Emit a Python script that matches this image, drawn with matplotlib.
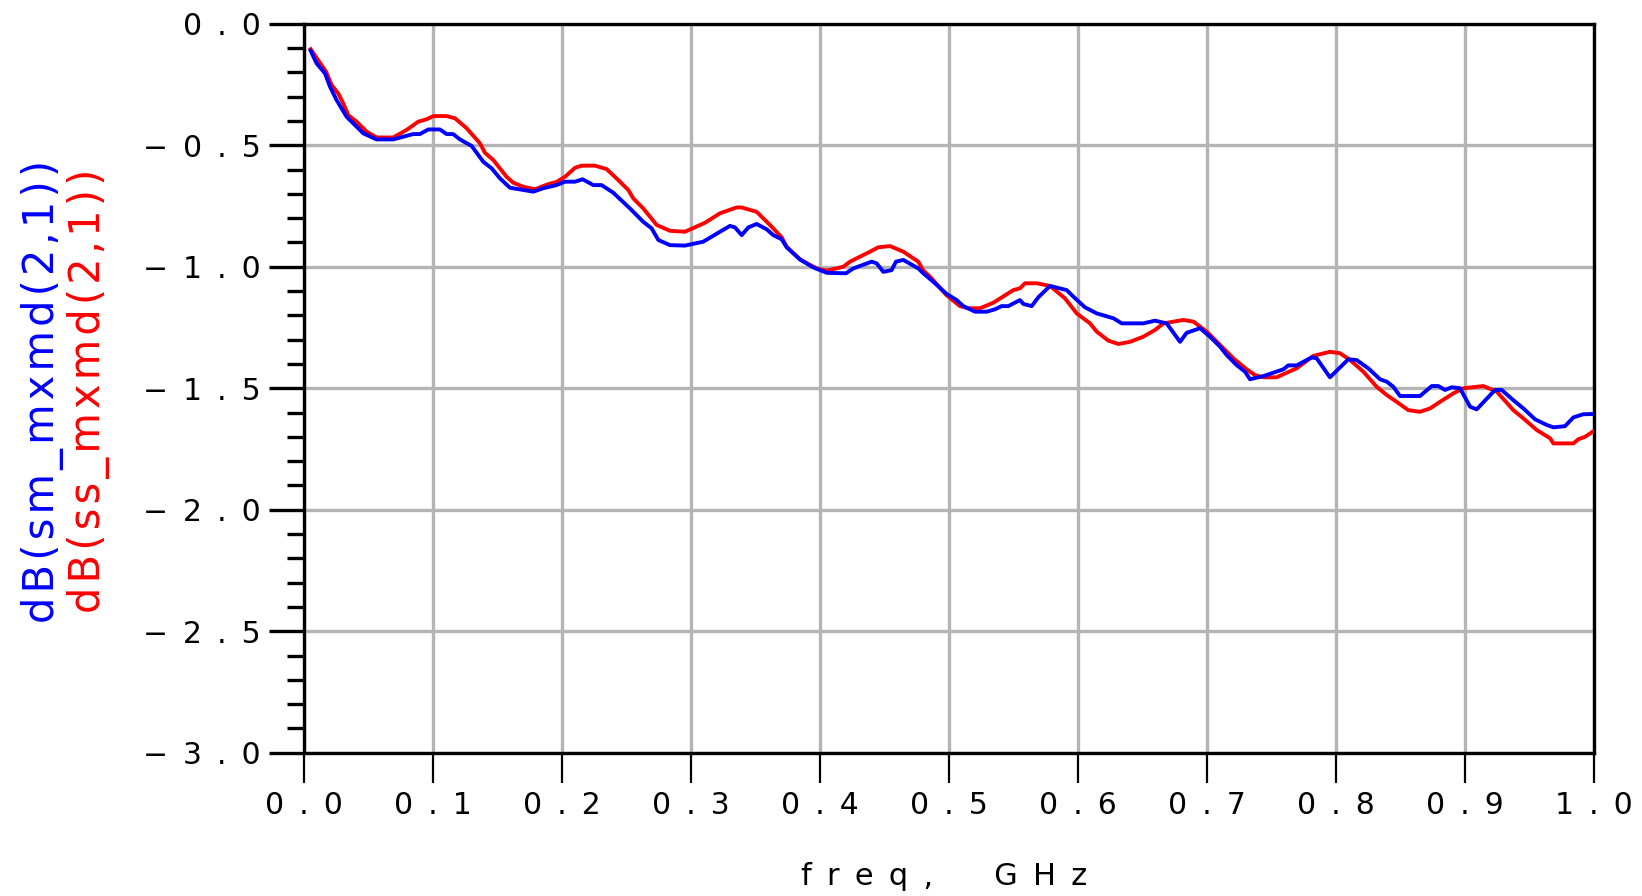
import matplotlib
matplotlib.use("Agg")
import numpy as np
import matplotlib.pyplot as plt
from matplotlib.ticker import MultipleLocator

# dB(sm_mxmd(2,1)) -- blue trace, freq in GHz
sm_freq = [0.0052, 0.0098, 0.0163, 0.0202, 0.0253, 0.0331, 0.0460, 0.0563, 0.0692, 0.0847,
           0.0899, 0.0964, 0.1054, 0.1106, 0.1157, 0.1209, 0.1300, 0.1390, 0.1455, 0.1519,
           0.1597, 0.1700, 0.1778, 0.1855, 0.1958, 0.2023, 0.2101, 0.2160, 0.2243, 0.2307,
           0.2397, 0.2527, 0.2630, 0.2695, 0.2747, 0.2837, 0.2953, 0.3095, 0.3225, 0.3302,
           0.3341, 0.3393, 0.3445, 0.3509, 0.3587, 0.3638, 0.3703, 0.3742, 0.3845, 0.3948,
           0.4052, 0.4202, 0.4258, 0.4401, 0.4439, 0.4491, 0.4555, 0.4589, 0.4646, 0.4762,
           0.4801, 0.4891, 0.4981, 0.5059, 0.5111, 0.5202, 0.5292, 0.5357, 0.5408, 0.5460,
           0.5550, 0.5576, 0.5641, 0.5692, 0.5783, 0.5912, 0.5964, 0.6054, 0.6145, 0.6274,
           0.6339, 0.6506, 0.6597, 0.6687, 0.6791, 0.6842, 0.6946, 0.7023, 0.7101, 0.7152,
           0.7230, 0.7295, 0.7333, 0.7437, 0.7592, 0.7630, 0.7695, 0.7811, 0.7850, 0.7953,
           0.8095, 0.8160, 0.8250, 0.8341, 0.8393, 0.8444, 0.8496, 0.8651, 0.8742, 0.8793,
           0.8845, 0.8897, 0.8961, 0.9039, 0.9090, 0.9233, 0.9284, 0.9374, 0.9452, 0.9543,
           0.9633, 0.9685, 0.9775, 0.9840, 0.9917, 1.0000]
sm_db = [-0.111, -0.163, -0.204, -0.259, -0.314, -0.383, -0.451, -0.476, -0.476, -0.454,
         -0.454, -0.435, -0.435, -0.454, -0.454, -0.476, -0.503, -0.568, -0.595, -0.636,
         -0.675, -0.684, -0.691, -0.677, -0.664, -0.650, -0.650, -0.640, -0.664, -0.664,
         -0.695, -0.760, -0.815, -0.842, -0.890, -0.911, -0.913, -0.897, -0.856, -0.832,
         -0.838, -0.870, -0.838, -0.824, -0.846, -0.870, -0.887, -0.920, -0.970, -1.003,
         -1.025, -1.027, -1.007, -0.979, -0.986, -1.021, -1.014, -0.979, -0.972, -1.007,
         -1.027, -1.068, -1.112, -1.137, -1.162, -1.185, -1.185, -1.175, -1.162, -1.162,
         -1.137, -1.153, -1.162, -1.126, -1.079, -1.096, -1.123, -1.167, -1.192, -1.212,
         -1.233, -1.233, -1.222, -1.233, -1.309, -1.272, -1.253, -1.288, -1.329, -1.363,
         -1.405, -1.432, -1.463, -1.450, -1.422, -1.406, -1.406, -1.373, -1.377, -1.455,
         -1.381, -1.384, -1.418, -1.463, -1.473, -1.494, -1.532, -1.532, -1.491, -1.491,
         -1.507, -1.496, -1.500, -1.576, -1.587, -1.507, -1.507, -1.549, -1.583, -1.628,
         -1.651, -1.661, -1.656, -1.620, -1.607, -1.606]

# dB(ss_mxmd(2,1)) -- red trace
ss_freq = [0.0052, 0.0171, 0.0214, 0.0266, 0.0305, 0.0343, 0.0408, 0.0486, 0.0563, 0.0692,
           0.0796, 0.0886, 0.0951, 0.1003, 0.1106, 0.1171, 0.1261, 0.1364, 0.1403, 0.1468,
           0.1571, 0.1622, 0.1700, 0.1791, 0.1894, 0.1958, 0.2023, 0.2101, 0.2152, 0.2255,
           0.2346, 0.2436, 0.2514, 0.2553, 0.2630, 0.2734, 0.2837, 0.2953, 0.3109, 0.3225,
           0.3354, 0.3393, 0.3509, 0.3612, 0.3703, 0.3742, 0.3845, 0.3974, 0.4052, 0.4181,
           0.4233, 0.4388, 0.4452, 0.4543, 0.4646, 0.4762, 0.4801, 0.4853, 0.4981, 0.5085,
           0.5150, 0.5240, 0.5344, 0.5499, 0.5550, 0.5589, 0.5680, 0.5783, 0.5899, 0.5990,
           0.6093, 0.6145, 0.6235, 0.6313, 0.6403, 0.6506, 0.6597, 0.6663, 0.6817, 0.6895,
           0.6998, 0.7101, 0.7204, 0.7307, 0.7372, 0.7437, 0.7540, 0.7618, 0.7695, 0.7824,
           0.7953, 0.8031, 0.8109, 0.8212, 0.8315, 0.8393, 0.8470, 0.8560, 0.8651, 0.8729,
           0.8806, 0.8910, 0.8987, 0.9142, 0.9246, 0.9374, 0.9452, 0.9556, 0.9659, 0.9685,
           0.9840, 0.9878, 0.9930, 1.0000]
ss_db = [-0.105, -0.197, -0.252, -0.287, -0.328, -0.376, -0.403, -0.444, -0.468, -0.468,
         -0.437, -0.403, -0.393, -0.380, -0.380, -0.389, -0.430, -0.492, -0.531, -0.561,
         -0.630, -0.654, -0.671, -0.681, -0.660, -0.651, -0.630, -0.593, -0.584, -0.584,
         -0.598, -0.643, -0.684, -0.719, -0.760, -0.828, -0.852, -0.856, -0.819, -0.780,
         -0.756, -0.756, -0.774, -0.828, -0.879, -0.918, -0.970, -1.007, -1.016, -1.000,
         -0.979, -0.938, -0.920, -0.915, -0.938, -0.979, -1.016, -1.041, -1.117, -1.162,
         -1.171, -1.171, -1.148, -1.096, -1.089, -1.068, -1.068, -1.079, -1.130, -1.192,
         -1.233, -1.267, -1.304, -1.318, -1.309, -1.288, -1.260, -1.233, -1.219, -1.226,
         -1.267, -1.322, -1.377, -1.422, -1.446, -1.455, -1.455, -1.436, -1.418, -1.367,
         -1.350, -1.356, -1.384, -1.432, -1.494, -1.528, -1.556, -1.590, -1.597, -1.583,
         -1.556, -1.521, -1.500, -1.491, -1.514, -1.590, -1.624, -1.672, -1.706, -1.727,
         -1.727, -1.710, -1.700, -1.675]

x_ticks = [0.0, 0.1, 0.2, 0.3, 0.4, 0.5, 0.6, 0.7, 0.8, 0.9, 1.0]
y_ticks = [0.0, -0.5, -1.0, -1.5, -2.0, -2.5, -3.0]

EN = "\u2002"
HAIR = "\u200a"


def spaced(s, sep=EN):
    # plotter-style letter spacing
    return sep.join(s)


def tick_text(v):
    return spaced("{:.1f}".format(v).replace("-", "\u2212"))


fig = plt.figure(figsize=(16.42, 8.96), dpi=100)
ax = fig.add_axes([0.1851, 0.1599, 0.7857, 0.8136])

ax.plot(ss_freq, ss_db, color="#ff0000", linewidth=2.8, zorder=3)
ax.plot(sm_freq, sm_db, color="#0000ff", linewidth=2.8, zorder=4)

ax.set_xlim(0, 1)
ax.set_ylim(-3, 0)
ax.set_xticks(x_ticks)
ax.set_xticklabels([tick_text(v) for v in x_ticks])
ax.set_yticks(y_ticks)
ax.set_yticklabels([tick_text(v) for v in y_ticks])
ax.yaxis.set_minor_locator(MultipleLocator(0.1))

ax.grid(True, which="major", color="#b4b4b4", linewidth=2.4)
ax.set_axisbelow(True)
for sp in ax.spines.values():
    sp.set_linewidth(2.4)
    sp.set_color("black")

ax.tick_params(axis="x", which="major", direction="out", length=21.5, width=1.6,
               pad=6, labelsize=21.5)
ax.tick_params(axis="y", which="major", direction="out", length=25, width=2.4,
               pad=6, labelsize=21.5)
ax.tick_params(axis="y", which="minor", direction="out", length=12, width=2.4)

fig.text(0.5752, 0.0123, spaced("freq,") + EN * 4 + spaced("GHz"),
         ha="center", va="baseline", fontsize=22)

fig.text(0.0256, 0.5636, spaced("dB(sm_mxmd(2,1))", HAIR), rotation=90,
         ha="center", va="center", fontsize=30, color="#0000ff")
fig.text(0.0542, 0.5636, spaced("dB(ss_mxmd(2,1))", HAIR), rotation=90,
         ha="center", va="center", fontsize=30, color="#ff0000")

fig.savefig("out.png", dpi=100)
